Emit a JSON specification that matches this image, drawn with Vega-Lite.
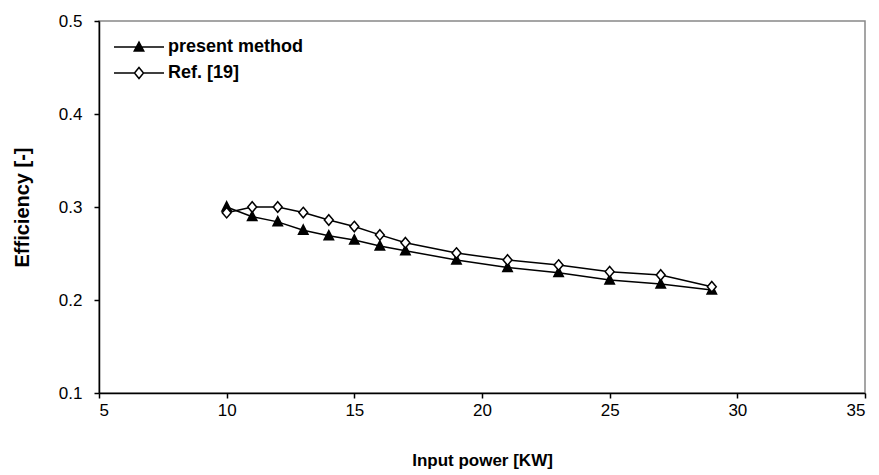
{
  "$schema": "https://vega.github.io/schema/vega-lite/v6.json",
  "width": 766,
  "height": 372,
  "autosize": {"type": "none"},
  "padding": {"left": 99, "top": 21, "right": 14, "bottom": 82},
  "background": "white",
  "config": {
    "font": "Liberation Sans",
    "view": {"stroke": "#888888", "strokeWidth": 1.5},
    "axis": {
      "grid": false,
      "domainColor": "black",
      "domainWidth": 1.5,
      "tickColor": "black",
      "tickWidth": 1.5,
      "tickSize": 5,
      "labelFont": "Liberation Sans",
      "labelFontSize": 17,
      "labelColor": "black",
      "titleFont": "Liberation Sans",
      "titleFontSize": 17,
      "titleFontWeight": "bold",
      "titleColor": "black"
    }
  },
  "data": {
    "values": [
      {"power": 10, "eff": 0.300, "series": "present method"},
      {"power": 11, "eff": 0.2896, "series": "present method"},
      {"power": 12, "eff": 0.284, "series": "present method"},
      {"power": 13, "eff": 0.275, "series": "present method"},
      {"power": 14, "eff": 0.269, "series": "present method"},
      {"power": 15, "eff": 0.2645, "series": "present method"},
      {"power": 16, "eff": 0.258, "series": "present method"},
      {"power": 17, "eff": 0.253, "series": "present method"},
      {"power": 19, "eff": 0.243, "series": "present method"},
      {"power": 21, "eff": 0.235, "series": "present method"},
      {"power": 23, "eff": 0.2294, "series": "present method"},
      {"power": 25, "eff": 0.2215, "series": "present method"},
      {"power": 27, "eff": 0.2172, "series": "present method"},
      {"power": 29, "eff": 0.2108, "series": "present method"},
      {"power": 10, "eff": 0.2939, "series": "Ref. [19]"},
      {"power": 11, "eff": 0.300, "series": "Ref. [19]"},
      {"power": 12, "eff": 0.300, "series": "Ref. [19]"},
      {"power": 13, "eff": 0.294, "series": "Ref. [19]"},
      {"power": 14, "eff": 0.286, "series": "Ref. [19]"},
      {"power": 15, "eff": 0.279, "series": "Ref. [19]"},
      {"power": 16, "eff": 0.270, "series": "Ref. [19]"},
      {"power": 17, "eff": 0.2616, "series": "Ref. [19]"},
      {"power": 19, "eff": 0.2505, "series": "Ref. [19]"},
      {"power": 21, "eff": 0.243, "series": "Ref. [19]"},
      {"power": 23, "eff": 0.2376, "series": "Ref. [19]"},
      {"power": 25, "eff": 0.2305, "series": "Ref. [19]"},
      {"power": 27, "eff": 0.2269, "series": "Ref. [19]"},
      {"power": 29, "eff": 0.2143, "series": "Ref. [19]"}
    ]
  },
  "encoding": {
    "x": {
      "field": "power",
      "type": "quantitative",
      "scale": {"domain": [5, 35], "nice": false, "zero": false},
      "axis": {"values": [5, 10, 15, 20, 25, 30, 35], "title": "Input power [KW]", "labelPadding": 4, "titlePadding": 34}
    },
    "y": {
      "field": "eff",
      "type": "quantitative",
      "scale": {"domain": [0.1, 0.5], "nice": false, "zero": false},
      "axis": {"values": [0.1, 0.2, 0.3, 0.4, 0.5], "format": ".1f", "title": "Efficiency [-]", "titleFontSize": 20, "labelPadding": 12, "titlePadding": 26}
    }
  },
  "layer": [
    {
      "mark": {"type": "line", "strokeWidth": 1.5},
      "encoding": {
        "color": {
          "field": "series",
          "type": "nominal",
          "scale": {"domain": ["present method", "Ref. [19]"], "range": ["black", "black"]},
          "legend": {
            "orient": "none",
            "legendX": 14,
            "legendY": 13,
            "title": null,
            "symbolSize": 2500,
            "clipHeight": 26,
            "rowPadding": 0,
            "labelFont": "Liberation Sans",
            "labelFontSize": 18,
            "labelFontWeight": "bold",
            "labelColor": "black",
            "labelOffset": 3,
            "symbolStrokeWidth": 1.5,
            "encode": {
              "symbols": {
                "update": {
                  "shape": {"signal": "datum.value === 'present method' ? 'M-1,0L1,0M0,-0.2L0.19,0.16L-0.19,0.16Z' : 'M-1,0L-0.18,0M0.18,0L1,0M0,-0.22L0.18,0L0,0.22L-0.18,0Z'"},
                  "fill": {"signal": "datum.value === 'present method' ? 'black' : 'white'"},
                  "stroke": {"value": "black"},
                  "strokeWidth": {"value": 1.5},
                  "size": {"value": 2500}
                }
              }
            }
          }
        }
      }
    },
    {
      "transform": [{"filter": "datum.series === 'present method'"}],
      "mark": {"type": "point", "shape": "M0,-1L0.9,0.75L-0.9,0.75Z", "filled": true, "fill": "black", "stroke": "black", "strokeWidth": 1.5, "opacity": 1, "size": 110}
    },
    {
      "transform": [{"filter": "datum.series === 'Ref. [19]'"}],
      "mark": {"type": "point", "shape": "M0,-1L0.85,0L0,1L-0.85,0Z", "filled": true, "fill": "white", "stroke": "black", "strokeWidth": 1.5, "opacity": 1, "size": 110}
    }
  ]
}
